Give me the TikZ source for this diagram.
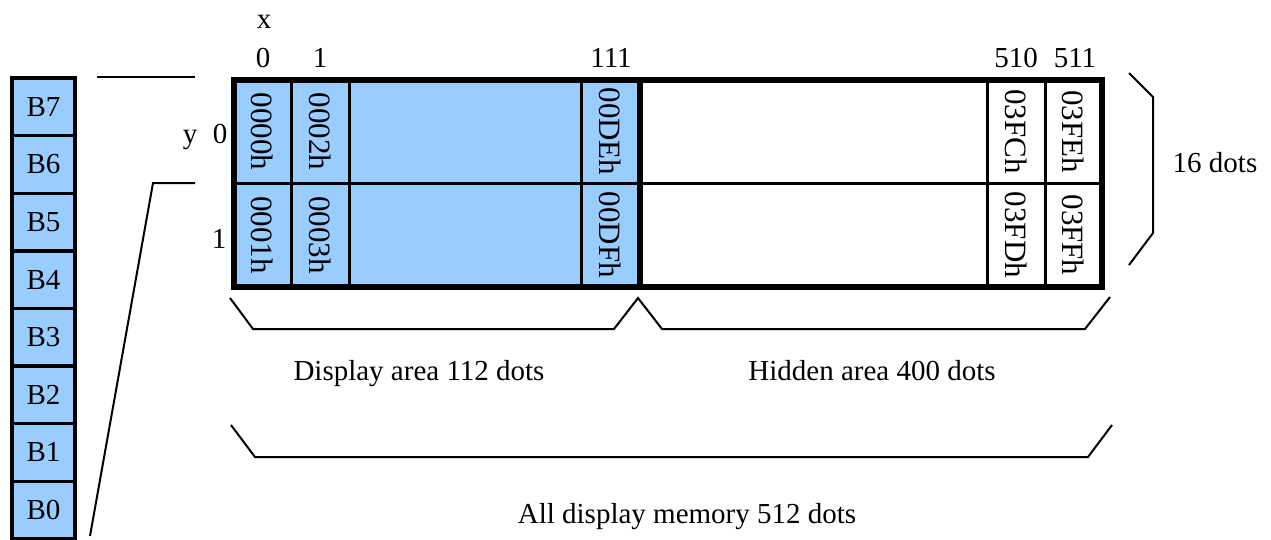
\documentclass[tikz,border=0pt]{standalone}
\usepackage{fontspec}
\setmainfont{Liberation Serif}
\definecolor{cellblue}{HTML}{99CCFF}
\begin{document}
\begin{tikzpicture}[x=1pt,y=-1pt,
  lbl/.style={font=\fontsize{29}{34}\selectfont, inner sep=0pt, anchor=base},
  celltxt/.style={font=\fontsize{31}{36}\selectfont, rotate=-90, inner sep=0pt},
  bitbox/.style={draw, line width=3.4pt, fill=cellblue, minimum width=63pt, minimum height=57.6pt, inner sep=0pt, font=\fontsize{29}{34}\selectfont},
  bracel/.style={line width=2pt, line join=miter},
  gridthin/.style={line width=3pt},
  gridthick/.style={line width=5.5pt}]
\useasboundingbox (0,0) rectangle (1271,539);
% bit column
\foreach \b [count=\i from 0] in {7,6,5,4,3,2,1,0}
  \node[bitbox] (B\b) at (43.5,{78+(\i+0.5)*57.6}) {B\b};
% grid
\fill[cellblue] (234,80) rectangle (640,287);
\foreach \xx in {291,349,581,987,1045}
  \draw[gridthin] (\xx,80) -- (\xx,287);
\draw[gridthin] (234,183) -- (1102,183);
\draw[gridthick] (640,80) -- (640,287);
\draw[gridthick] (234,80) rectangle (1102,287);
% cell texts
\node[celltxt] (c00) at (262.5,131.5) {0000h};
\node[celltxt] (c01) at (262.5,235) {0001h};
\node[celltxt] (c10) at (320,131.5) {0002h};
\node[celltxt] (c11) at (320,235) {0003h};
\node[celltxt] (c20) at (610.5,131.5) {00DEh};
\node[celltxt] (c21) at (610.5,235) {00DFh};
\node[celltxt] (c30) at (1016,131.5) {03FCh};
\node[celltxt] (c31) at (1016,235) {03FDh};
\node[celltxt] (c40) at (1073.5,131.5) {03FEh};
\node[celltxt] (c41) at (1073.5,235) {03FFh};
% axis labels
\node[lbl] (xl) at (264,28) {x};
\node[lbl] (h0) at (263,67) {0};
\node[lbl] (h1) at (320,67) {1};
\node[lbl] (h111) at (611,67) {111};
\node[lbl] (h510) at (1016,67) {510};
\node[lbl] (h511) at (1075,67) {511};
\node[lbl] (yl) at (190,143) {y};
\node[lbl] (r0) at (220,143) {0};
\node[lbl] (r1) at (219,248) {1};
% lines from byte to row 0
\coordinate (t1) at (97,77);
\coordinate (t2) at (195,77);
\coordinate (u1) at (195,183);
\coordinate (u2) at (153,183);
\coordinate (u3) at (90,536);
\draw[bracel] (t1) -- (t2);
\draw[bracel] (u1) -- (u2) -- (u3);
% braces
\draw[bracel] (230,298) -- (253,329) -- (614,329) -- (638,298) -- (662,329) -- (1085,329) -- (1110,297);
\draw[bracel] (231,425) -- (255,457) -- (1088,457) -- (1112,425);
\draw[bracel] (1129,73) -- (1153,97) -- (1153,233) -- (1129,265);
% brace labels
\node[lbl] (disp) at (419,380) {Display area 112 dots};
\node[lbl] (hid) at (872,380) {Hidden area 400 dots};
\node[lbl] (all) at (687,523) {All display memory 512 dots};
\node[lbl] (dots16) at (1215,172) {16 dots};
\end{tikzpicture}
\end{document}
